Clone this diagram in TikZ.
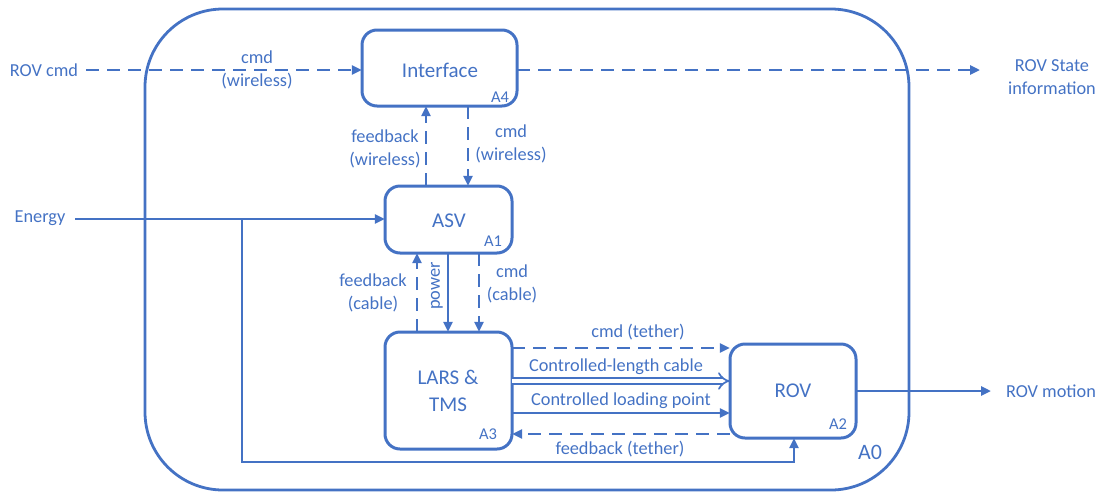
\documentclass[tikz,border=0pt]{standalone}
\usepackage{fontspec}
\setmainfont{Carlito}
\usetikzlibrary{arrows.meta}
\definecolor{ofblue}{HTML}{4472C4}
\tikzset{
  box/.style={draw=ofblue, line width=3pt, rounded corners=15pt, inner sep=0pt},
  boxtxt/.style={text=ofblue, font=\fontsize{21}{27}\selectfont, align=center},
  tag/.style={text=ofblue, font=\fontsize{16.5}{18}\selectfont, inner sep=0pt},
  lbl/.style={text=ofblue, font=\fontsize{18.3}{23.5}\selectfont, align=center, inner sep=0pt},
  flow/.style={draw=ofblue, line width=2.8pt, -{Triangle[length=10pt,width=9pt]}},
  sig/.style={flow, dash pattern=on 13pt off 8pt},
  cablearrow/.style={draw=ofblue, line width=1.7pt, double=white, double distance=4.2pt, -{Implies}},
}
\begin{document}
\begin{tikzpicture}[x=1pt, y=-1pt]
\useasboundingbox (0,0) rectangle (1099,493);

% context boundary A0
\draw[ofblue, line width=2.8pt, rounded corners=78pt] (145,9) rectangle (909,490);
\node[text=ofblue, font=\fontsize{22}{24}\selectfont] (a0) at (870,452) {A0};

% activity boxes
\path[box] (362,30) rectangle (517,106);
\node (iface) at (439.5,68) [minimum width=155pt, minimum height=76pt] {};
\node[boxtxt] (ifacetxt) at (440,70) {Interface};
\node[tag] (a4) at (500,97) {A4};

\path[box] (385,186) rectangle (512,253);
\node (asv) at (448.5,219.5) [minimum width=127pt, minimum height=67pt] {};
\node[boxtxt] (asvtxt) at (449,221) {ASV};
\node[tag] (a1) at (493,241) {A1};

\path[box] (385,332) rectangle (512,449);
\node (lars) at (448.5,390.5) [minimum width=127pt, minimum height=117pt] {};
\node[boxtxt] (larstxt) at (448,391) {LARS \&\\TMS};
\node[tag] (a3) at (488,434) {A3};

\path[box] (730,344) rectangle (856,438);
\node (rov) at (793,391) [minimum width=126pt, minimum height=94pt] {};
\node[boxtxt] (rovtxt) at (793,391) {ROV};
\node[tag] (a2) at (838,424) {A2};

% external inputs and outputs
\node[lbl] (rovcmd) at (44,70) {ROV cmd};
\node[lbl] (energy) at (40,218) {Energy};
\node[lbl] (state) at (1052,77) {ROV State\\information};
\node[lbl] (motion) at (1051,391) {ROV motion};

\coordinate (cmdin) at (86,70);
\coordinate (statein) at (980,70);
\coordinate (energyin) at (75,219);
\coordinate (motionend) at (991,391);

% operator commands and state information
\draw[sig] (cmdin) -- (iface.west |- cmdin);
\node[lbl] (l1) at (257,70) {cmd\\(wireless)};
\draw[sig] (iface.east |- statein) -- (statein);

% interface <-> ASV
\draw[sig] (asv.north -| 426,0) -- (iface.south -| 426,0);
\draw[sig] (iface.south -| 468,0) -- (asv.north -| 468,0);
\node[lbl] (l2) at (385,149) {feedback\\(wireless)};
\node[lbl] (l3) at (511,144) {cmd\\(wireless)};

% energy supply
\draw[flow] (energyin) -- (asv.west |- energyin);
\coordinate (br) at (242,219);
\coordinate (brlow) at (242,462);
\coordinate (rovlow) at (794,462);
\draw[flow] (br) -- (brlow) -- (rovlow) -- (rov.south -| rovlow);

% ASV <-> LARS & TMS
\draw[sig] (lars.north -| 417,0) -- (asv.south -| 417,0);
\draw[flow] (asv.south -| 448,0) -- (lars.north -| 448,0);
\draw[sig] (asv.south -| 479,0) -- (lars.north -| 479,0);
\node[lbl] (l4) at (373,293) {feedback\\(cable)};
\node[lbl, rotate=90] (l5) at (437,286) {power};
\node[lbl] (l6) at (512,284) {cmd\\(cable)};

% LARS & TMS <-> ROV
\draw[sig] (lars.east |- 0,348) -- (rov.west |- 0,348);
\node[lbl] (l7) at (638,332) {cmd (tether)};
\draw[cablearrow] (lars.east |- 0,381) -- (rov.west |- 0,381);
\node[lbl] (l8) at (616,367) {Controlled-length cable};
\draw[flow] (lars.east |- 0,413) -- (rov.west |- 0,413);
\node[lbl] (l9) at (621,401) {Controlled loading point};
\draw[sig] (rov.west |- 0,434) -- (lars.east |- 0,434);
\node[lbl] (l10) at (620,449) {feedback (tether)};

% ROV output
\draw[flow] (rov.east) -- (motionend);
\end{tikzpicture}
\end{document}
